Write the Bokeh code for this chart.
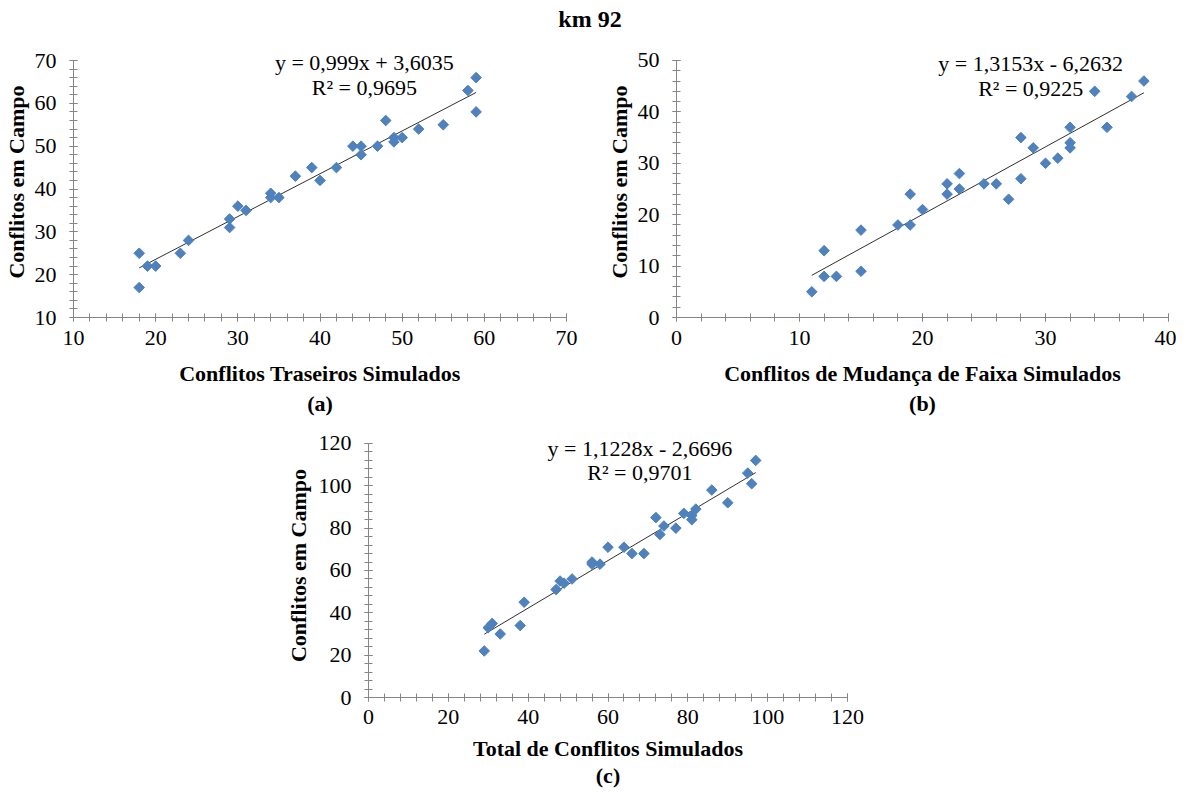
from bokeh.plotting import figure
from bokeh.models import SingleIntervalTicker, Label, Title, Div, Spacer, Range1d
from bokeh.layouts import column, row
from bokeh.embed import file_html
from bokeh.resources import INLINE

# ---------------- data ----------------
a_x = [18, 18, 19, 20, 23, 24, 29, 29, 30, 31, 34, 34, 35, 37, 39, 40, 42, 44, 45, 45, 47, 48, 49, 49, 50, 52, 55, 58, 59, 59]
a_y = [25, 17, 22, 22, 25, 28, 31, 33, 36, 35, 39, 38, 38, 43, 45, 42, 45, 50, 50, 48, 50, 56, 52, 51, 52, 54, 55, 63, 66, 58]
a_fit = [0.999, 3.6035]
a_eq = ["y = 0,999x + 3,6035", "R² = 0,9695"]

b_x = [11, 12, 12, 13, 15, 15, 18, 19, 19, 20, 22, 22, 23, 23, 25, 26, 27, 28, 28, 29, 30, 31, 32, 32, 32, 34, 35, 37, 38]
b_y = [5, 13, 8, 8, 17, 9, 18, 24, 18, 21, 26, 24, 28, 25, 26, 26, 23, 35, 27, 33, 30, 31, 37, 34, 33, 44, 37, 43, 46]
b_fit = [1.3153, -6.2632]
b_eq = ["y = 1,3153x - 6,2632", "R² = 0,9225"]

c_x = [29, 30, 31, 33, 38, 39, 47, 48, 49, 51, 56, 56, 58, 60, 64, 66, 69, 72, 73, 74, 77, 79, 81, 81, 82, 86, 90, 95, 96, 97]
c_y = [22, 33, 35, 30, 34, 45, 51, 55, 54, 56, 64, 63, 63, 71, 71, 68, 68, 85, 77, 81, 80, 87, 86, 84, 89, 98, 92, 106, 101, 112]
c_fit = [1.1228, -2.6696]
c_eq = ["y = 1,1228x - 2,6696", "R² = 0,9701"]

title_text = "km 92"
y_title = "Conflitos em Campo"
x_titles = ["Conflitos Traseiros Simulados", "Conflitos de Mudança de Faixa Simulados", "Total de Conflitos Simulados"]
captions = ["(a)", "(b)", "(c)"]

FONT = "Liberation Serif"
AXIS_COL = "#868686"
MARK_COL = "#4F81BD"


def panel(xs, ys, fit, eq, xr, yr, ytop, step, xtitle, caption, eq_pos,
          fw, fh, bl, br, bt, bb, ylab_sd, xtick_sd, xlab_sd, cap_sd):
    p = figure(title=None, frame_width=fw, frame_height=fh,
               x_range=Range1d(*xr), y_range=Range1d(yr[0], ytop),
               output_backend="svg", toolbar_location=None,
               min_border_left=bl, min_border_right=br,
               min_border_top=bt, min_border_bottom=bb)
    p.outline_line_color = None
    p.grid.visible = False
    p.background_fill_color = "white"
    p.border_fill_color = "white"

    for ax, rng in ((p.xaxis[0], xr), (p.yaxis[0], yr)):
        ax.ticker = SingleIntervalTicker(interval=step, num_minor_ticks=5)
        ax.bounds = rng
        ax.axis_line_color = AXIS_COL
        ax.major_tick_line_color = AXIS_COL
        ax.minor_tick_line_color = AXIS_COL
        ax.major_tick_in = 4
        ax.major_tick_out = 4
        ax.minor_tick_in = 4
        ax.minor_tick_out = 4
        ax.major_label_text_font = FONT
        ax.major_label_text_font_size = "22px"
        ax.major_label_text_color = "black"
        ax.axis_label_text_font = FONT
        ax.axis_label_text_font_size = "22px"
        ax.axis_label_text_font_style = "bold"
        ax.axis_label_text_color = "black"

    p.xaxis.axis_label = xtitle
    p.yaxis.axis_label = y_title
    p.xaxis.major_label_standoff = xtick_sd
    p.xaxis.axis_label_standoff = xlab_sd
    p.yaxis.major_label_standoff = 13
    p.yaxis.axis_label_standoff = ylab_sd

    cap = Title(text=caption, align="center", text_font=FONT,
                text_font_size="22px", text_font_style="bold",
                text_color="black", standoff=cap_sd)
    p.add_layout(cap, "below")

    x0, x1 = min(xs), max(xs)
    p.line([x0, x1], [fit[0] * x0 + fit[1], fit[0] * x1 + fit[1]],
           line_color="#303030", line_width=1)
    p.scatter(xs, ys, marker="square", size=7.5, angle=0.785398,
              fill_color=MARK_COL, line_color=MARK_COL)

    ex, ey1, ey2 = eq_pos
    for txt, yy in ((eq[0], ey1), (eq[1], ey2)):
        p.add_layout(Label(x=ex, y=yy, text=txt, text_align="center",
                           text_baseline="middle", text_font=FONT,
                           text_font_size="22px", text_color="black"))
    return p


pa = panel(a_x, a_y, a_fit, a_eq, (10, 70), (10, 70), 73.27, 10, x_titles[0], captions[0],
           (45.4, 69.5, 63.7), 493, 271, 72, 37, 16, 100, 3, 9, 13, 0)
pb = panel(b_x, b_y, b_fit, b_eq, (0, 40), (0, 50), 52.72, 10, x_titles[1], captions[1],
           (28.8, 49.5, 44.6), 492, 271, 70, 8, 15, 101, 3, 9, 13, 0)
pc = panel(c_x, c_y, c_fit, c_eq, (0, 120), (0, 120), 124.72, 20, x_titles[2], captions[2],
           (68.0, 117.8, 106.5), 479, 264, 82, 20, 16, 92, 5, 8, 9, -6)

title = Div(text='<div style="font-family: \'Liberation Serif\'; font-weight: bold; '
                 'font-size: 24px; text-align: center; width: 1180px; color: black; '
                 'padding-top: 2px;">' + title_text + '</div>',
            width=1180, height=30, margin=0)

layout = column(title, row(pa, pb), row(Spacer(width=282, height=10), pc))

open("out.html", "w").write(file_html(layout, INLINE))
